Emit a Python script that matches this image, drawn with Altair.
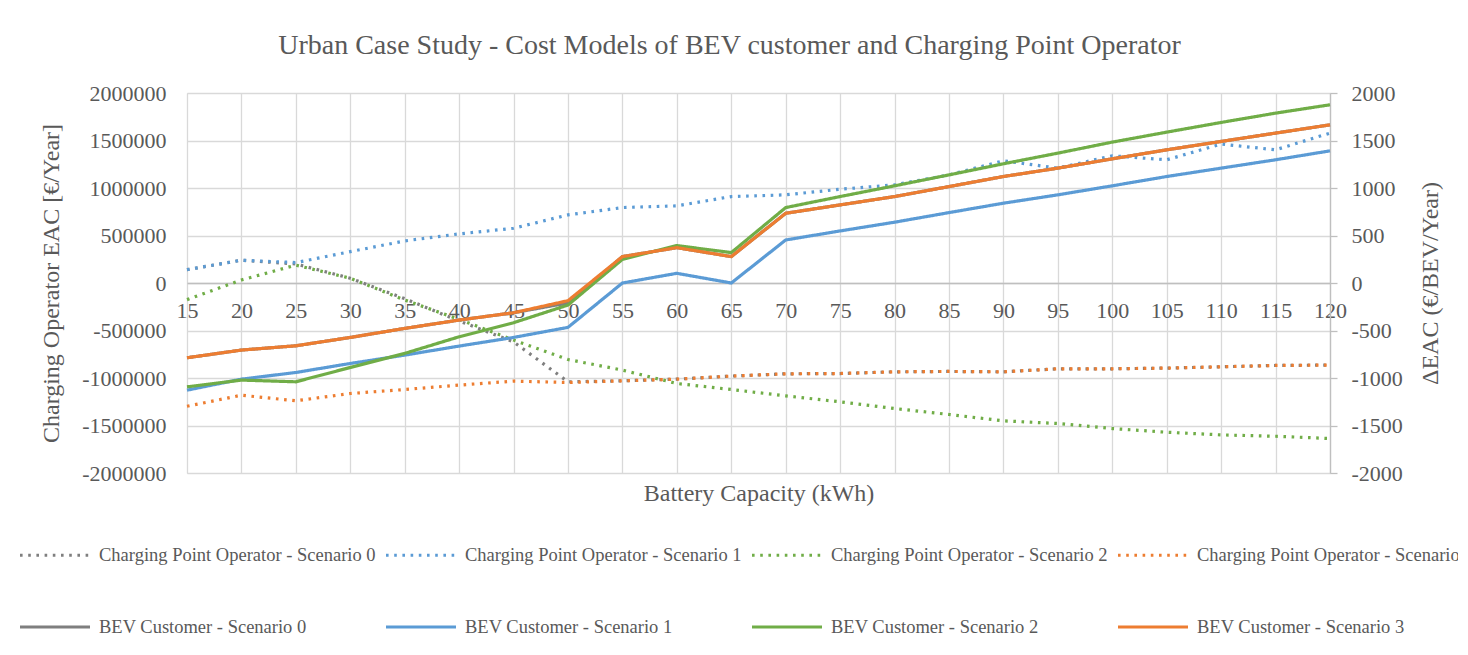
import altair as alt
import pandas as pd

capacity = [15, 20, 25, 30, 35, 40, 45, 50, 55, 60, 65, 70, 75, 80, 85, 90, 95, 100, 105, 110, 115, 120]

# Charging Point Operator EAC [€/Year] (left axis, dotted)
cpo_s0 = [140000, 240000, 200000, 50000, -165000, -400000, -620000, -1040000, -1030000, -1012000, -980000,
          -956000, -953000, -935000, -931000, -935000, -903000, -903000, -896000, -882000, -868000, -864000]
cpo_s1 = [140000, 240000, 215000, 330000, 443000, 517000, 576000, 717000, 794000, 812000, 910000,
          928000, 987000, 1033000, 1138000, 1286000, 1209000, 1339000, 1297000, 1462000, 1402000, 1578000]
cpo_s2 = [-175000, 32000, 188000, 50000, -179000, -383000, -601000, -805000, -917000, -1058000, -1121000,
          -1188000, -1251000, -1321000, -1384000, -1451000, -1479000, -1532000, -1571000, -1599000, -1613000, -1637000]
cpo_s3 = [-1297000, -1181000, -1240000, -1163000, -1121000, -1075000, -1033000, -1047000, -1030000, -1012000, -980000,
          -956000, -953000, -935000, -931000, -935000, -903000, -903000, -896000, -882000, -868000, -864000]

# BEV customer ΔEAC (€/BEV/Year) (right axis, solid)
bev_s0 = [-787, -706, -661, -573, -478, -390, -313, -210, 278, 372, 278,
          734, 822, 910, 1015, 1121, 1209, 1307, 1402, 1490, 1578, 1665]
bev_s1 = [-1128, -1012, -942, -847, -759, -664, -573, -467, 0, 102, 0,
          453, 548, 640, 741, 840, 928, 1023, 1121, 1209, 1297, 1391]
bev_s2 = [-1093, -1022, -1040, -889, -741, -566, -418, -232, 249, 394, 320,
          794, 910, 1023, 1138, 1255, 1367, 1483, 1588, 1690, 1788, 1876]
bev_s3 = [-787, -706, -661, -573, -478, -390, -313, -186, 278, 372, 278,
          734, 822, 910, 1015, 1121, 1209, 1307, 1402, 1490, 1578, 1665]

cpo_names = [f"Charging Point Operator - Scenario {i}" for i in range(4)]
bev_names = [f"BEV Customer - Scenario {i}" for i in range(4)]
palette = ["#7f7f7f", "#5b9bd5", "#70ad47", "#ed7d31"]

left_ticks = [-2000000, -1500000, -1000000, -500000, 0, 500000, 1000000, 1500000, 2000000]
right_ticks = [-2000, -1500, -1000, -500, 0, 500, 1000, 1500, 2000]


def long_df(names, series):
    rows = []
    for name, vals in zip(names, series):
        for c, v in zip(capacity, vals):
            rows.append({"capacity": c, "value": v, "series": name})
    return pd.DataFrame(rows)


df_cpo = long_df(cpo_names, [cpo_s0, cpo_s1, cpo_s2, cpo_s3])
df_bev = long_df(bev_names, [bev_s0, bev_s1, bev_s2, bev_s3])

FONT = "Liberation Serif"
TXT = "#595959"
GRID = "#d9d9d9"

domain = cpo_names + bev_names
legend = alt.Legend(
    title=None, orient="none", legendX=-169, legendY=425, direction="horizontal", columns=4,
    symbolType="stroke", symbolSize=4900, labelFont=FONT, labelFontSize=18.5, labelColor=TXT,
    labelLimit=400, labelOffset=7, columnPadding=3, rowPadding=25,
)
color = alt.Color("series:N", scale=alt.Scale(domain=domain, range=palette + palette), legend=legend)
dash = alt.StrokeDash("series:N", scale=alt.Scale(domain=domain, range=[[2.6, 5.6]] * 4 + [[1, 0]] * 4), legend=legend)
swidth = alt.StrokeWidth("series:N", scale=alt.Scale(domain=domain, range=[3.2] * 4 + [3.8] * 4), legend=legend)

x_scale = alt.Scale(domain=[15, 120], nice=False, zero=False)

x_enc = alt.X(
    "capacity:Q", scale=x_scale,
    axis=alt.Axis(
        values=capacity, grid=True, gridColor=GRID, gridWidth=1.3, ticks=False,
        domain=True, domainColor="#bfbfbf", domainWidth=1.3, offset=-190,
        labelFlush=False, labelOverlap=False, labelFont=FONT, labelFontSize=22, labelColor=TXT,
        labelPadding=17,
        title="Battery Capacity (kWh)", titleFont=FONT, titleFontSize=24, titleFontWeight="normal",
        titleColor=TXT, titleY=210, titleBaseline="middle",
    ),
)

dotted = alt.Chart(df_cpo).mark_line().encode(
    x=x_enc,
    y=alt.Y(
        "value:Q", scale=alt.Scale(domain=[-2000000, 2000000], nice=False),
        axis=alt.Axis(
            values=left_ticks, labelExpr="'' + datum.value", grid=True, gridColor=GRID, gridWidth=1.3,
            ticks=False, domain=False, labelFont=FONT, labelFontSize=22, labelColor=TXT, labelPadding=21,
            title="Charging Operator EAC [€/Year]", titleFont=FONT, titleFontSize=24,
            titleFontWeight="normal", titleColor=TXT, titlePadding=18,
        ),
    ),
    color=color, strokeDash=dash, strokeWidth=swidth, detail="series:N",
)

solid = alt.Chart(df_bev).mark_line().encode(
    x=alt.X("capacity:Q", scale=x_scale),
    y=alt.Y(
        "value:Q", scale=alt.Scale(domain=[-2000, 2000], nice=False),
        axis=alt.Axis(
            orient="right", values=right_ticks, labelExpr="'' + datum.value", grid=False,
            ticks=True, tickSize=7, tickColor="#bfbfbf", tickWidth=1.3,
            domain=True, domainColor="#bfbfbf", domainWidth=1.3,
            labelFont=FONT, labelFontSize=22, labelColor=TXT, labelPadding=14,
            title="ΔEAC (€/BEV/Year)", titleFont=FONT, titleFontSize=24, titleFontWeight="normal",
            titleColor=TXT, titleAngle=270, titleX=100, titleY=190, titleAlign="center",
            titleBaseline="middle",
        ),
    ),
    color=color, strokeDash=dash, strokeWidth=swidth, detail="series:N",
)

chart = alt.layer(dotted, solid).resolve_scale(y="independent").properties(
    width=1143, height=380,
    autosize=alt.AutoSizeParams(type="none"),
    padding={"left": 179, "top": 85, "right": 128, "bottom": 174},
    title=alt.Title(
        "Urban Case Study - Cost Models of BEV customer and Charging Point Operator",
        font=FONT, fontSize=28, fontWeight="normal", color=TXT, anchor="middle", dx=-29, offset=22,
    ),
).configure_view(stroke="transparent").configure(background="white")

chart.save("out.html", embed_options={"renderer": "svg", "actions": False})
